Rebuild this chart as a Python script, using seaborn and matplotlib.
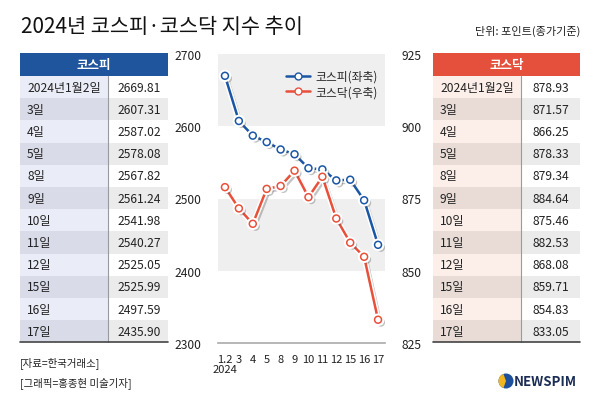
import numpy as np
import pandas as pd
import matplotlib
matplotlib.use("Agg")
import matplotlib.pyplot as plt
import matplotlib.patheffects as pe
from matplotlib.patches import Rectangle, Circle, Wedge
from matplotlib.lines import Line2D
import seaborn as sns

sns.set_theme(style="white")
plt.rcParams['font.family'] = ['Noto Sans CJK KR', 'DejaVu Sans']

# data
row_labels = ["2024년1월2일", "3일", "4일", "5일", "8일", "9일", "10일",
              "11일", "12일", "15일", "16일", "17일"]
tick_labels = ["1.2", "3", "4", "5", "8", "9", "10", "11", "12", "15", "16", "17"]
kospi = [2669.81, 2607.31, 2587.02, 2578.08, 2567.82, 2561.24, 2541.98,
         2540.27, 2525.05, 2525.99, 2497.59, 2435.90]
kosdaq = [878.93, 871.57, 866.25, 878.33, 879.34, 884.64, 875.46,
          882.53, 868.08, 859.71, 854.83, 833.05]

BLUE = "#1a56a6"
RED = "#e8503a"
TXT = "#222222"

df = pd.DataFrame({"pos": np.arange(len(tick_labels)), "kospi": kospi, "kosdaq": kosdaq})

fig = plt.figure(figsize=(6, 4.06), dpi=100)
bg = fig.add_axes([0, 0, 1, 1])
bg.set_xlim(0, 600)
bg.set_ylim(406, 0)
bg.axis("off")

# title and unit
bg.text(21, 27, "2024년 코스피·코스닥 지수 추이", fontsize=15, color="#111111",
        va="center", ha="left")
bg.text(580, 31, "단위: 포인트(종가기준)", fontsize=8, color=TXT, va="center", ha="right")


def draw_table(x0, x1, xdiv, head, head_col, col_a, col_b, vals, fmt_x):
    top, hh, rh = 54, 23, 22.2
    bg.add_patch(Rectangle((x0, top), x1 - x0, hh, color=head_col, lw=0))
    bg.text((x0 + x1) / 2, top + hh / 2 + 0.5, head, color="white", fontsize=9,
            fontweight="bold", ha="center", va="center")
    for i, (lab, v) in enumerate(zip(row_labels, vals)):
        y = top + hh + i * rh
        c1 = col_a if i % 2 == 0 else col_b
        c2 = "white" if i % 2 == 0 else "#ebebeb"
        bg.add_patch(Rectangle((x0, y), xdiv - x0, rh, color=c1, lw=0))
        bg.add_patch(Rectangle((xdiv, y), x1 - xdiv, rh, color=c2, lw=0))
        bg.text(x0 + 7, y + rh / 2, lab, fontsize=8.7, color=TXT, ha="left", va="center")
        bg.text(fmt_x, y + rh / 2, f"{v:.2f}", fontsize=8.7, color=TXT,
                ha="right", va="center")
    bottom = top + hh + len(vals) * rh
    bg.plot([xdiv, xdiv], [top + hh, bottom], color="#9a9a9a", lw=0.8)
    bg.plot([x0, x1], [bottom, bottom], color="#444444", lw=1.2)


draw_table(20, 168, 108, "코스피", "#1f559c", "#eaedf7", "#d9dce8", kospi, 161)
draw_table(433, 580, 521, "코스닥", "#e4503b", "#fcefe9", "#e9dcd6", kosdaq, 569)

# footer
bg.text(20, 363, "[자료=한국거래소]", fontsize=7.5, color=TXT, ha="left", va="center")
bg.text(20, 383, "[그래픽=홍종현 미술기자]", fontsize=7.5, color=TXT, ha="left", va="center")
bg.add_patch(Circle((506, 382), 7.5, color="#1d4f9c", lw=0))
bg.add_patch(Wedge((506, 382), 7.5, 110, 250, color="#f2b51c", lw=0))
bg.text(514, 382, "NEWSPIM", fontsize=9.5, fontweight="bold", color="#1c2d55",
        ha="left", va="center")

# chart
ax = fig.add_axes([218 / 600, 1 - 344 / 406, (385 - 218) / 600, (344 - 55) / 406])
ax.set_facecolor("none")
ax.axhspan(2600, 2700, color="#efefef", lw=0, zorder=0)
ax.axhspan(2400, 2500, color="#efefef", lw=0, zorder=0)
ax2 = ax.twinx()

line_fx = [pe.SimpleLineShadow(offset=(2, -2), shadow_color="#555555", alpha=0.35),
           pe.Stroke(linewidth=4, foreground="white"), pe.Normal()]

sns.lineplot(data=df, x="pos", y="kospi", ax=ax, color=BLUE, lw=1.8, marker="o",
             markersize=5, markerfacecolor="white", markeredgecolor=BLUE,
             markeredgewidth=1.1, path_effects=line_fx, zorder=3)
sns.lineplot(data=df, x="pos", y="kosdaq", ax=ax2, color=RED, lw=1.8, marker="o",
             markersize=5, markerfacecolor="white", markeredgecolor=RED,
             markeredgewidth=1.1, path_effects=line_fx, zorder=3)

ax.set_xlim(-0.5, 11.5)
ax.set_ylim(2300, 2700)
ax2.set_ylim(825, 925)
ax.set_yticks([2300, 2400, 2500, 2600, 2700])
ax2.set_yticks([825, 850, 875, 900, 925])
ax.set_xticks(df["pos"])
ax.set_xticklabels(tick_labels)
ax.set_xlabel("")
ax.set_ylabel("")
ax2.set_ylabel("")
for a in (ax, ax2):
    for s in a.spines.values():
        s.set_visible(False)
ax.spines["bottom"].set_visible(True)
ax.spines["bottom"].set_color("#aaaaaa")
ax.spines["bottom"].set_linewidth(1.2)
ax.tick_params(axis="x", direction="in", length=4, color="#aaaaaa", pad=8,
               labelsize=8, labelcolor=TXT)
ax.tick_params(axis="y", length=0, pad=12, labelsize=8.7, labelcolor=TXT)
ax2.tick_params(axis="y", length=0, pad=12, labelsize=8.7, labelcolor=TXT)
bg.text(213, 370, "2024", fontsize=8, color=TXT, ha="left", va="center")

handles = [Line2D([], [], color=BLUE, lw=1.8, marker="o", markersize=5,
                  markerfacecolor="white", markeredgecolor=BLUE),
           Line2D([], [], color=RED, lw=1.8, marker="o", markersize=5,
                  markerfacecolor="white", markeredgecolor=RED)]
ax2.legend(handles, ["코스피(좌축)", "코스닥(우축)"], loc="upper right",
           bbox_to_anchor=(1.0, 0.97), frameon=False, fontsize=8.5,
           handlelength=2.0, handletextpad=0.5, labelspacing=0.2,
           borderaxespad=0.2)

fig.savefig("out.png", dpi=100)
